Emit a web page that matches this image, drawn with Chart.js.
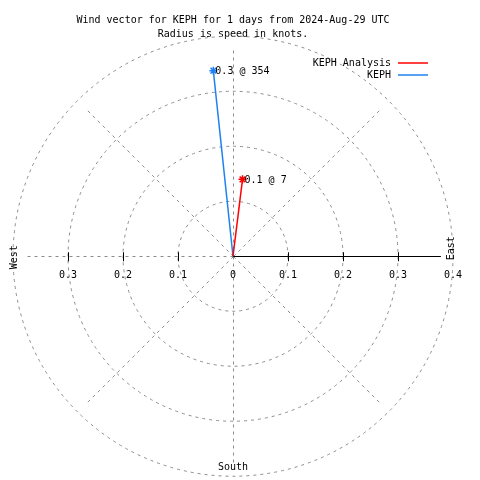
<!DOCTYPE html>
<html>
<head>
<meta charset="utf-8">
<script src="https://cdn.jsdelivr.net/npm/chart.js@4.4.1/dist/chart.umd.min.js"></script>
<style>
  body { margin: 0; background: #fff; }
</style>
</head>
<body>
<canvas id="wind-chart" width="480" height="480"></canvas>
<script>
const seriesNames = ['KEPH Analysis', 'KEPH'];
const seriesColors = ['#ff0000', '#1e82f0'];
const speeds = [0.142, 0.342];      // knots
const directions = [7, 354];        // degrees, 0 = north
const ringValues = [0.1, 0.2, 0.3, 0.4];
const tickLabels = ['0', '0.1', '0.2', '0.3', '0.4'];
const titleLines = ['Wind vector for KEPH for 1 days from 2024-Aug-29 UTC', 'Radius is speed in knots.'];

const monoFont = '10px "DejaVu Sans Mono", monospace';

function toXY(speed, dir) {
    const rad = dir * Math.PI / 180;
    return { x: speed * Math.sin(rad), y: speed * Math.cos(rad) };
}

const datasets = seriesNames.map((name, i) => ({
    label: name,
    data: [{ x: 0, y: 0 }, toXY(speeds[i], directions[i])],
    showLine: true,
    borderColor: seriesColors[i],
    backgroundColor: seriesColors[i],
    borderWidth: 1.5,
    pointStyle: 'star',
    pointRadius: [0, 4],
    pointBorderColor: seriesColors[i],
    pointBorderWidth: 1.5
}));

// polar grid, axis, ticks and labels drawn from the chart's own scales
const polarGrid = {
    id: 'polarGrid',
    beforeDatasetsDraw(chart) {
        const ctx = chart.ctx;
        const xs = chart.scales.x, ys = chart.scales.y;
        const cx = xs.getPixelForValue(0), cy = ys.getPixelForValue(0);
        const px = v => xs.getPixelForValue(v) - cx;
        ctx.save();
        ctx.strokeStyle = '#8c8c8c';
        ctx.lineWidth = 1;
        ctx.setLineDash([3, 4]);
        ringValues.forEach(r => {
            ctx.beginPath();
            ctx.arc(cx, cy, px(r), 0, Math.PI * 2);
            ctx.stroke();
        });
        const spokeLen = px(0.378);
        for (let a = 0; a < 360; a += 45) {
            if (a === 90) continue;
            const rad = a * Math.PI / 180;
            ctx.beginPath();
            ctx.moveTo(Math.round(cx) + 0.5, Math.round(cy) + 0.5);
            ctx.lineTo(Math.round(cx + spokeLen * Math.sin(rad)) + 0.5, Math.round(cy - spokeLen * Math.cos(rad)) + 0.5);
            ctx.stroke();
        }
        ctx.setLineDash([]);
        ctx.strokeStyle = '#000';
        ctx.beginPath();
        ctx.moveTo(cx, Math.round(cy) + 0.5);
        ctx.lineTo(cx + spokeLen, Math.round(cy) + 0.5);
        ctx.stroke();
        ringValues.slice(0, 3).forEach(r => {
            [r, -r].forEach(v => {
                const x = Math.round(xs.getPixelForValue(v)) + 0.5;
                ctx.beginPath();
                ctx.moveTo(x, cy - 4);
                ctx.lineTo(x, cy + 5);
                ctx.stroke();
            });
        });
        ctx.fillStyle = '#000';
        ctx.font = monoFont;
        ctx.textAlign = 'center';
        ctx.textBaseline = 'middle';
        tickLabels.forEach((t, i) => {
            const v = i * 0.1;
            ctx.fillText(t, xs.getPixelForValue(v), cy + 19);
            if (i > 0 && i < 4) ctx.fillText(t, xs.getPixelForValue(-v), cy + 19);
        });
        ctx.fillText('South', cx, ys.getPixelForValue(-0.4) - 7);
        ctx.save();
        ctx.translate(14, cy + 1);
        ctx.rotate(-Math.PI / 2);
        ctx.fillText('West', 0, 0);
        ctx.restore();
        ctx.save();
        ctx.translate(xs.getPixelForValue(0.4) - 2, cy - 8);
        ctx.rotate(-Math.PI / 2);
        ctx.fillText('East', 0, 0);
        ctx.restore();
        ctx.restore();
    },
    afterDatasetsDraw(chart) {
        const ctx = chart.ctx;
        const xs = chart.scales.x, ys = chart.scales.y;
        ctx.save();
        ctx.font = monoFont;
        ctx.fillStyle = '#000';
        ctx.textBaseline = 'middle';
        ctx.textAlign = 'left';
        chart.data.datasets.forEach((ds, i) => {
            const tip = ds.data[1];
            const text = speeds[i].toFixed(1) + ' @ ' + directions[i];
            ctx.fillText(text, xs.getPixelForValue(tip.x) + 2, ys.getPixelForValue(tip.y) + 1);
        });
        // legend
        ctx.textAlign = 'right';
        seriesNames.forEach((name, i) => {
            const y = 63 + i * 12;
            ctx.fillText(name, 391, y);
            ctx.strokeStyle = seriesColors[i];
            ctx.lineWidth = 1.5;
            ctx.beginPath();
            ctx.moveTo(398, y);
            ctx.lineTo(428, y);
            ctx.stroke();
        });
        ctx.restore();
    }
};

new Chart(document.getElementById('wind-chart').getContext('2d'), {
    type: 'scatter',
    data: { datasets: datasets },
    options: {
        responsive: false,
        animation: false,
        layout: { padding: { left: 13, right: 27, top: 0, bottom: 2 } },
        scales: {
            x: { type: 'linear', min: -0.4, max: 0.4, display: false },
            y: { type: 'linear', min: -0.4, max: 0.4, display: false }
        },
        plugins: {
            legend: { display: false },
            tooltip: { enabled: false },
            title: {
                display: true,
                fullSize: false,
                text: titleLines,
                color: '#000',
                font: { family: '"DejaVu Sans Mono", monospace', size: 10, weight: 'normal', lineHeight: '14px' },
                padding: { top: 13, bottom: -3 }
            }
        }
    },
    plugins: [polarGrid]
});
</script>
</body>
</html>
